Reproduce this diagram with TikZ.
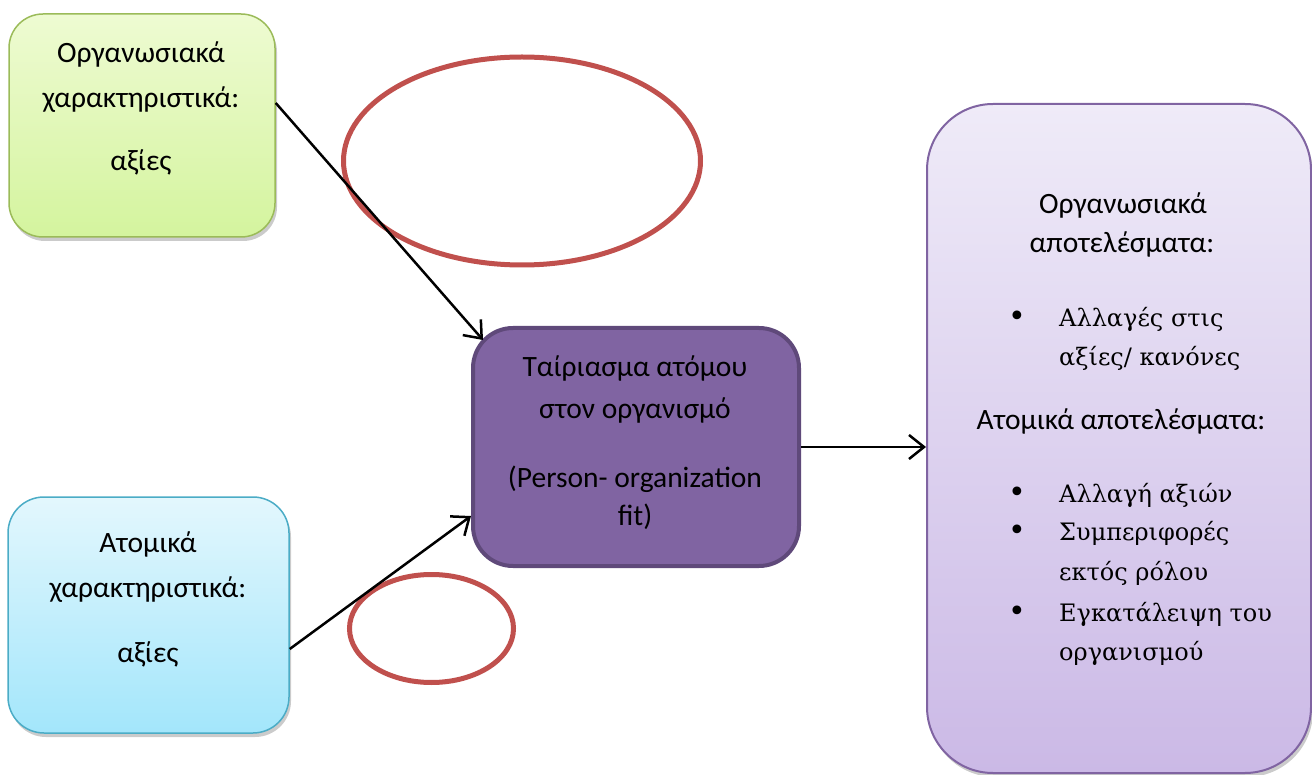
\documentclass[tikz,border=0pt]{standalone}
\usepackage{fontspec}
\setmainfont{Carlito}
\newfontfamily\serifgr{DejaVu Serif}
\usetikzlibrary{shadows,arrows.meta,shapes.geometric}

\definecolor{grnline}{HTML}{9BBB59}
\definecolor{grntop}{RGB}{238,251,210}
\definecolor{grnbot}{RGB}{212,244,158}
\definecolor{bluline}{HTML}{4BACC6}
\definecolor{blutop}{RGB}{227,247,253}
\definecolor{blubot}{RGB}{163,230,251}
\definecolor{purfill}{HTML}{8064A2}
\definecolor{purline}{HTML}{5F497A}
\definecolor{lavtop}{RGB}{239,235,248}
\definecolor{lavbot}{RGB}{203,185,230}
\definecolor{redring}{HTML}{C0504D}

\tikzset{
  x=1pt, y=1pt,
  softshadow/.style={drop shadow={shadow xshift=2pt, shadow yshift=-4pt, fill=black!45, opacity=0.45}},
  inbox/.style={draw=grnline, line width=1.5pt, rounded corners=34pt, inner sep=0pt,
    top color=grntop, bottom color=grnbot, softshadow},
  indbox/.style={draw=bluline, line width=1.5pt, rounded corners=36pt, inner sep=0pt,
    top color=blutop, bottom color=blubot, softshadow},
  fitbox/.style={draw=purline, fill=purfill, line width=4pt, rounded corners=40pt, inner sep=0pt},
  outbox/.style={draw=purfill, line width=2pt, rounded corners=66pt, inner sep=0pt,
    top color=lavtop, bottom color=lavbot, softshadow},
  ring/.style={ellipse, draw=redring, line width=5pt, inner sep=0pt},
  arr/.style={draw=black, line width=2.5pt, -{Straight Barb[length=15pt, width=24pt, line width=2.5pt]}},
  lbl/.style={anchor=base, inner sep=0pt, font=\fontsize{29.5}{34}\selectfont},
  rlbl/.style={anchor=base, inner sep=0pt, font=\fontsize{29.5}{34}\selectfont},
  slbl/.style={anchor=base west, inner sep=0pt, font=\serifgr\fontsize{24}{30}\selectfont},
  dot/.style={anchor=base, inner sep=0pt, font=\serifgr\fontsize{30}{32}\selectfont},
}

\begin{document}
\begin{tikzpicture}
\useasboundingbox (0,0) rectangle (1312,-775);

% input boxes
\node[inbox, minimum width=266pt, minimum height=223pt] (org) at (142,-125.5) {};
\node[indbox, minimum width=281pt, minimum height=236pt] (ind) at (148.5,-615) {};

% central fit box
\node[fitbox, minimum width=326pt, minimum height=238pt] (fit) at (636,-447) {};

% outcomes box
\node[outbox, minimum width=384pt, minimum height=669pt] (out) at (1119,-438.5) {};

% red rings
\node[ring, minimum width=357pt, minimum height=208pt] (ringA) at (522,-161) {};
\node[ring, minimum width=164pt, minimum height=108pt] (ringB) at (431.5,-628.5) {};

% labels of the input boxes
\node[lbl] (orgA) at (141,-63) {Οργανωσιακά};
\node[lbl] (orgB) at (141,-108) {χαρακτηριστικά:};
\node[lbl] (orgC) at (141,-171) {αξίες};

\node[lbl] (indA) at (148,-552) {Ατομικά};
\node[lbl] (indB) at (148,-597) {χαρακτηριστικά:};
\node[lbl] (indC) at (148,-662) {αξίες};

% labels of the fit box
\node[lbl] (fitA) at (635,-377) {Ταίριασμα ατόμου};
\node[lbl] (fitB) at (635,-419) {στον οργανισμό};
\node[lbl] (fitC) at (635,-487) {(Person- organization};
\node[lbl] (fitD) at (635,-525) {fit)};

% labels of the outcomes box
\node[rlbl] (outA) at (1123,-214) {Οργανωσιακά};
\node[rlbl] (outB) at (1122,-253) {αποτελέσματα:};
\node[dot] (b1) at (1017,-327) {•};
\node[slbl] (outC) at (1059,-327) {Αλλαγές στις};
\node[slbl] (outD) at (1059,-366) {αξίες/ κανόνες};
\node[rlbl] (outE) at (1121,-429) {Ατομικά αποτελέσματα:};
\node[dot] (b2) at (1017,-502) {•};
\node[slbl] (outF) at (1059,-502) {Αλλαγή αξιών};
\node[dot] (b3) at (1017,-540) {•};
\node[slbl] (outG) at (1059,-540) {Συμπεριφορές};
\node[slbl] (outH) at (1059,-580) {εκτός ρόλου};
\node[dot] (b4) at (1017,-621) {•};
\node[slbl] (outI) at (1059,-621) {Εγκατάλειψη του};
\node[slbl] (outJ) at (1059,-660) {οργανισμού};

% connectors
\coordinate (tipA) at (483,-340);
\draw[arr] (org.east |- 0,-103) -- (tipA);
\draw[arr] (ind.east |- 0,-649) -- (fit.west |- 0,-516);
\draw[arr] (fit.east) -- (fit.east -| out.west);
\end{tikzpicture}
\end{document}
